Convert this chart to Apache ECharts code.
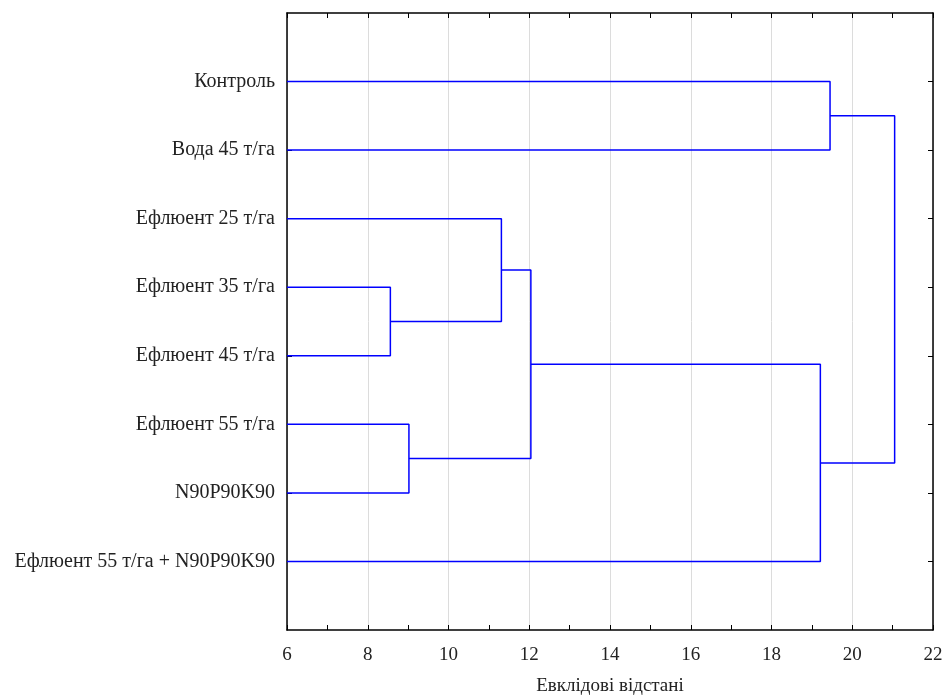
<!DOCTYPE html>
<html><head><meta charset="utf-8">
<script src="https://cdn.jsdelivr.net/npm/echarts@6/dist/echarts.min.js"></script>
<style>html,body{margin:0;padding:0;background:#fff}#c{width:945px;height:695px}</style>
</head><body><div id="c"></div>
<script>
// Leaves (top to bottom)
const leaves = ['Контроль','Вода 45 т/га','Ефлюент 25 т/га','Ефлюент 35 т/га','Ефлюент 45 т/га','Ефлюент 55 т/га','N90P90K90','Ефлюент 55 т/га + N90P90K90'];
// Linkage: node ids 0..7 leaves, merges create ids 8.. in order
const mergeA = [3, 5, 2, 10, 11, 0, 13];
const mergeB = [4, 6, 8, 9, 7, 1, 12];
const mergeDist = [8.56, 9.02, 11.31, 12.04, 19.21, 19.45, 21.05];
const xTicks = [6, 8, 10, 12, 14, 16, 18, 20, 22];
const xName = 'Евклідові відстані';

const xMin = xTicks[0], xMax = xTicks[xTicks.length - 1];
const nodeY = leaves.map((_, i) => i + 1);
const nodeH = leaves.map(() => xMin);
const series = [];
for (let k = 0; k < mergeDist.length; k++) {
  const a = mergeA[k], b = mergeB[k], d = mergeDist[k];
  series.push({
    type: 'line', silent: true, symbol: 'none', animation: false,
    lineStyle: { color: '#0000ff', width: 1.5 },
    data: [[nodeH[a], nodeY[a]], [d, nodeY[a]], [d, nodeY[b]], [nodeH[b], nodeY[b]]]
  });
  nodeY.push((nodeY[a] + nodeY[b]) / 2);
  nodeH.push(d);
}
const font = '"Liberation Serif", "Times New Roman", serif';
const chart = echarts.init(document.getElementById('c'));
const tickStyle = { show: true, inside: true, length: 5, lineStyle: { color: '#000', width: 1 } };
chart.setOption({
  animation: false,
  grid: { left: 287, right: 12, top: 13, bottom: 65, outerBoundsMode: 'none', containLabel: false },
  xAxis: [{
    type: 'value', min: xMin, max: xMax, interval: 2, position: 'bottom',
    name: xName, nameLocation: 'middle', nameGap: 47,
    nameTextStyle: { fontFamily: font, fontSize: 19, color: '#222' },
    axisLine: { show: true, onZero: false, lineStyle: { color: '#000', width: 1.5 } },
    axisTick: tickStyle,
    minorTick: { show: true, splitNumber: 2, length: 5, lineStyle: { color: '#000' } },
    axisLabel: { fontFamily: font, fontSize: 19, color: '#222', margin: 16 },
    splitLine: { show: true, lineStyle: { color: '#dcdcdc', width: 1 } }
  }, {
    type: 'value', min: xMin, max: xMax, interval: 2, position: 'top',
    axisLine: { show: true, onZero: false, lineStyle: { color: '#000', width: 1.5 } },
    axisTick: tickStyle,
    minorTick: { show: true, splitNumber: 2, length: 5, lineStyle: { color: '#000' } },
    axisLabel: { show: false }, splitLine: { show: false }
  }],
  yAxis: [{
    type: 'value', min: 0, max: leaves.length + 1, interval: 1, inverse: true, position: 'left',
    axisLine: { show: true, onZero: false, lineStyle: { color: '#000', width: 1.5 } },
    axisTick: { show: true, inside: true, length: 5, lineStyle: { color: '#000' },
      customValues: leaves.map((_, i) => i + 1) },
    axisLabel: { fontFamily: font, fontSize: 20, color: '#222', margin: 12,
      customValues: leaves.map((_, i) => i + 1),
      formatter: v => leaves[v - 1] || '' },
    splitLine: { show: false }
  }, {
    type: 'value', min: 0, max: leaves.length + 1, interval: 1, inverse: true, position: 'right',
    axisLine: { show: true, onZero: false, lineStyle: { color: '#000', width: 1.5 } },
    axisTick: { show: true, inside: true, length: 5, lineStyle: { color: '#000' },
      customValues: leaves.map((_, i) => i + 1) },
    axisLabel: { show: false }, splitLine: { show: false }
  }],
  series: series
});
</script></body></html>
